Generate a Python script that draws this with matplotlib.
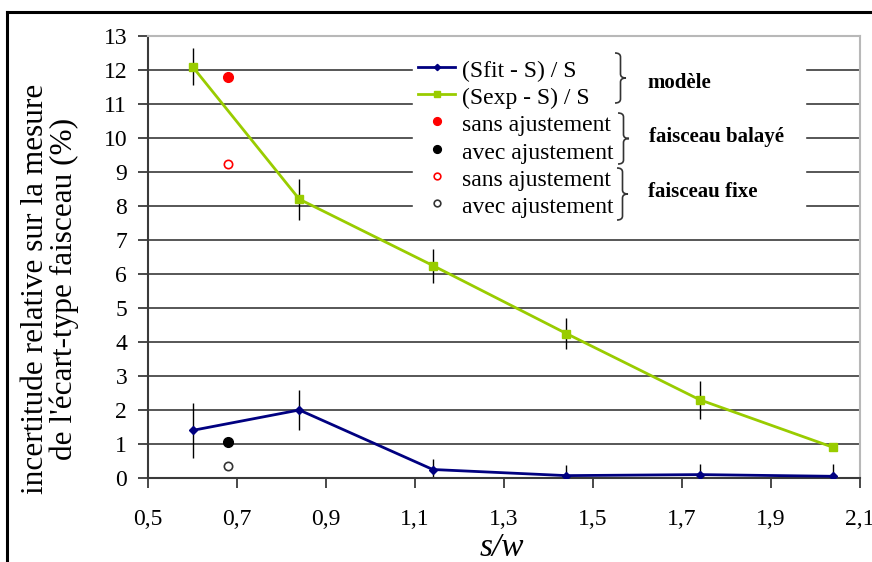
import numpy as np
import matplotlib.pyplot as plt
from matplotlib.lines import Line2D
from matplotlib.path import Path
from matplotlib.patches import PathPatch
from matplotlib.ticker import FuncFormatter

plt.rcParams['font.family'] = ['Liberation Serif', 'DejaVu Serif']

# data
s_w = [0.6, 0.84, 1.14, 1.44, 1.74, 2.04]
fit_err = [1.4, 2.0, 0.25, 0.07, 0.1, 0.05]
fit_bar = [0.8, 0.6, 0.3, 0.3, 0.3, 0.35]
exp_err = [12.1, 8.2, 6.25, 4.25, 2.3, 0.9]
exp_bar = [0.55, 0.6, 0.5, 0.45, 0.55, 0.0]

pt_x = 0.68
balaye_sans = 11.8
balaye_avec = 1.05
fixe_sans = 9.25
fixe_avec = 0.35

legend_labels = ['(Sfit - S) / S', '(Sexp - S) / S', 'sans ajustement', 'avec ajustement',
                 'sans ajustement', 'avec ajustement']
groups = ['modèle', 'faisceau balayé', 'faisceau fixe']

blue = '#000080'
green = '#99CC00'
W, H = 872, 562


def fx(px):
    return px / W


def fy(py):
    return 1 - py / H


def brace(x0, y0, y1, w=11):
    # right-pointing curly brace in pixel coords
    ym = (y0 + y1) / 2
    h = w / 2
    verts = [(x0, y0), (x0 + h, y0), (x0 + h, y0 + 4),
             (x0 + h, ym - 4), (x0 + h, ym), (x0 + w, ym),
             (x0 + h, ym), (x0 + h, ym + 4),
             (x0 + h, y1 - 4), (x0 + h, y1), (x0, y1)]
    verts = [(fx(a), fy(b)) for a, b in verts]
    codes = [Path.MOVETO, Path.CURVE3, Path.CURVE3,
             Path.LINETO, Path.CURVE3, Path.CURVE3,
             Path.CURVE3, Path.CURVE3,
             Path.LINETO, Path.CURVE3, Path.CURVE3]
    fig.add_artist(PathPatch(Path(verts, codes), fc='none', ec='#333333', lw=1.2,
                             transform=fig.transFigure))


fig = plt.figure(figsize=(8.72, 5.62), dpi=100)
ax = fig.add_axes([fx(148), fy(478), fx(860) - fx(148), fy(36) - fy(478)])

for y in range(1, 13):
    ax.axhline(y, color='#3a3a3a', lw=1.2, zorder=1)
# white area of the legend box hiding the grid
ax.axvspan(1.096, 1.976, ymin=0.57, ymax=0.98, color='white', zorder=1.5)

ax.errorbar(s_w, fit_err, yerr=fit_bar, fmt='none', ecolor='black', elinewidth=1, zorder=2)
ax.errorbar(s_w, exp_err, yerr=exp_bar, fmt='none', ecolor='black', elinewidth=1, zorder=2)
l1, = ax.plot(s_w, fit_err, color=blue, lw=2, marker='D', ms=4, zorder=3)
l2, = ax.plot(s_w, exp_err, color=green, lw=2, marker='s', ms=6, zorder=3)
p1, = ax.plot([pt_x], [balaye_sans], 'o', color='red', ms=7, zorder=4)
p2, = ax.plot([pt_x], [balaye_avec], 'o', color='black', ms=7, zorder=4)
p3, = ax.plot([pt_x], [fixe_sans], 'o', mfc='white', mec='red', mew=1.2, ms=6, zorder=4)
p4, = ax.plot([pt_x], [fixe_avec], 'o', mfc='white', mec='#333333', mew=1.2, ms=6, zorder=4)

ax.set_xlim(0.5, 2.1)
ax.set_ylim(0, 13)
ax.set_xticks(np.arange(0.5, 2.11, 0.2))
ax.set_yticks(range(0, 14))
ax.xaxis.set_major_formatter(FuncFormatter(lambda v, p: f'{v:.1f}'.replace('.', ',')))
ax.tick_params(axis='both', labelsize=17, direction='out', length=7, width=1.3, color='#3a3a3a')
ax.tick_params(axis='x', pad=15)
ax.tick_params(axis='y', pad=8)
for side in ['top', 'right']:
    ax.spines[side].set_color('#b8b8b8')
    ax.spines[side].set_linewidth(1.5)
for side in ['left', 'bottom']:
    ax.spines[side].set_color('#3a3a3a')
    ax.spines[side].set_linewidth(1.5)

fig.text(fx(502), fy(548), 's/w', fontsize=24, style='italic', ha='center', va='center')
fig.text(fx(50), fy(289), "incertitude relative sur la mesure\nde l'écart-type faisceau (%)",
         fontsize=22.5, rotation=90, ha='center', va='center', multialignment='center',
         linespacing=1.0)

leg = fig.legend([l1, l2, p1, p2, p3, p4], legend_labels,
                 loc='upper left', bbox_to_anchor=(fx(418), fy(57)),
                 bbox_transform=fig.transFigure, fontsize=17, frameon=False,
                 handlelength=1.57, handleheight=1.17, handletextpad=0.3, labelspacing=0.1,
                 borderpad=0, borderaxespad=0, markerscale=0.8)

# braces and group labels
brace(615, 53, 103)
brace(618, 113, 164)
brace(617, 168, 220)
for (py, px), lab in zip([(83, 647), (137, 649), (192, 648)], groups):
    fig.text(fx(px), fy(py), lab, fontsize=15, fontweight='bold', ha='left', va='center')

# frame of the picture
fig.add_artist(Line2D([fx(7), 1.0], [fy(12), fy(12)], color='black', lw=2.2))
fig.add_artist(Line2D([fx(7), fx(7)], [0.0, fy(12)], color='black', lw=2.2))

fig.savefig('out.png', dpi=100)
